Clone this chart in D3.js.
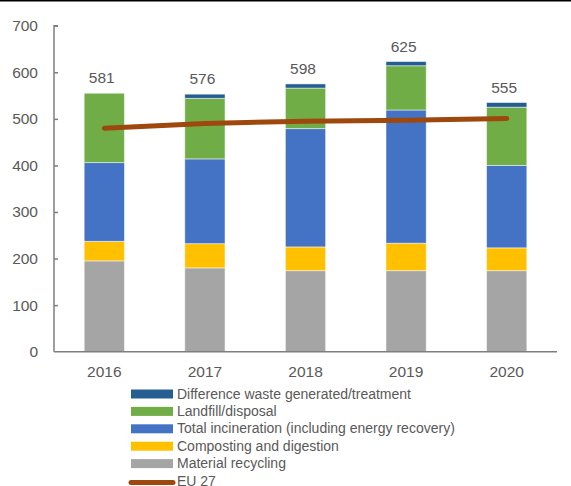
<!DOCTYPE html>
<html><head><meta charset="utf-8">
<script src="https://cdn.jsdelivr.net/npm/d3@7"></script>
<style>body{margin:0;background:#fff;} svg{display:block;font-family:"Liberation Sans",Arial,sans-serif;}</style>
</head><body>
<svg id="c" width="571" height="486"></svg>
<script>
const years = ["2016","2017","2018","2019","2020"];
const materialRecycling = [195, 180, 174, 174, 174];
const composting = [42, 52, 51, 59, 49];
const incineration = [169, 182, 254, 286, 177];
const landfill = [149, 130, 87, 95, 125];
const difference = [0, 9, 9, 9, 10];
const totalLabels = [581, 576, 598, 625, 555];
const eu27 = [480, 490, 495, 497, 501];
const yTicks = [0, 100, 200, 300, 400, 500, 600, 700];
const seriesNames = ["Material recycling","Composting and digestion","Total incineration (including energy recovery)","Landfill/disposal","Difference waste generated/treatment"];
const seriesColors = ["#A5A5A5","#FFC000","#4472C4","#70AD47","#255E91"];
const lineName = "EU 27";
const lineColor = "#9E480E";

const seriesValues = [materialRecycling, composting, incineration, landfill, difference];
const table = years.map((y,i)=>{const o={year:y}; seriesNames.forEach((n,k)=>o[n]=seriesValues[k][i]); return o;});
const stacked = d3.stack().keys(seriesNames)(table);

const svg = d3.select("#c");
const textColor = "#595959";
const x = d3.scaleBand().domain(years).range([54, 557]).paddingInner(0.6).paddingOuter(0.3);
const y = d3.scaleLinear().domain([0, 700]).range([351.7, 25.7]);

svg.append("line").attr("x1",0).attr("x2",571).attr("y1",0.7).attr("y2",0.7).attr("stroke","#000").attr("stroke-width",1.6);

// y axis
const ya = svg.append("g").attr("transform","translate(54,0)")
  .call(d3.axisRight(y).tickValues(yTicks).tickSize(4).tickFormat(d3.format("d")));
ya.select(".domain").attr("stroke","#7f7f7f").attr("stroke-width",1.5).attr("d","M4,25.7H0V351.7");
ya.selectAll(".tick line").attr("stroke","#7f7f7f").attr("stroke-width",1.5);
ya.selectAll(".tick text").attr("x",-16).attr("text-anchor","end").attr("fill",textColor)
  .attr("font-size",15.5).attr("font-family","Liberation Sans, Arial, sans-serif");
ya.selectAll(".tick").filter(d=>d===0).select("line").remove();

// bars
svg.append("g").selectAll("g").data(stacked).join("g").attr("fill",(d,i)=>seriesColors[i])
  .selectAll("rect").data(d=>d).join("rect")
  .attr("x",d=>x(d.data.year)).attr("width",x.bandwidth())
  .attr("y",d=>y(d[1])).attr("height",d=>Math.max(0,y(d[0])-y(d[1])))
  .attr("stroke",d=>(d[1]-d[0])>0?"#ffffff":"none").attr("stroke-opacity",0.55).attr("stroke-width",0.9);

// x axis
const xa = svg.append("g").attr("transform","translate(0,351.7)").call(d3.axisBottom(x).tickSize(0).tickPadding(14));
xa.select(".domain").attr("stroke","#7f7f7f").attr("stroke-width",1.5).attr("d","M54,0H557");
xa.selectAll(".tick text").attr("fill",textColor).attr("font-size",15.5).attr("font-family","Liberation Sans, Arial, sans-serif");

// total labels
const topOf = years.map((yr,i)=>stacked[stacked.length-1][i][1]);
svg.append("g").selectAll("text").data(totalLabels).join("text")
  .attr("x",(d,i)=>x(years[i])+x.bandwidth()/2-2.5)
  .attr("y",(d,i)=>y(topOf[i])-10)
  .attr("text-anchor","middle").attr("fill",textColor).attr("font-size",15.5)
  .text(d=>d);

// EU27 line
svg.append("path").datum(eu27)
  .attr("d",d3.line().x((d,i)=>x(years[i])+x.bandwidth()/2).y(d=>y(d)))
  .attr("fill","none").attr("stroke",lineColor).attr("stroke-width",5).attr("stroke-linecap","round");

// legend
const legendItems = seriesNames.slice().reverse().map((n)=>({name:n,color:seriesColors[seriesNames.indexOf(n)],type:"rect"}));
legendItems.push({name:lineName,color:lineColor,type:"line"});
const lg = svg.append("g");
legendItems.forEach((it,i)=>{
  const cy = 394 + i*17.4;
  if(it.type==="rect"){
    lg.append("rect").attr("x",131).attr("y",cy-4.5).attr("width",42).attr("height",9).attr("fill",it.color);
  } else {
    lg.append("line").attr("x1",131).attr("x2",173).attr("y1",cy+1.5).attr("y2",cy+1.5).attr("stroke",it.color).attr("stroke-width",5).attr("stroke-linecap","round");
  }
  lg.append("text").attr("x",177).attr("y",cy+4.5).attr("fill",textColor).attr("font-size",14).text(it.name);
});
</script>
</body></html>
